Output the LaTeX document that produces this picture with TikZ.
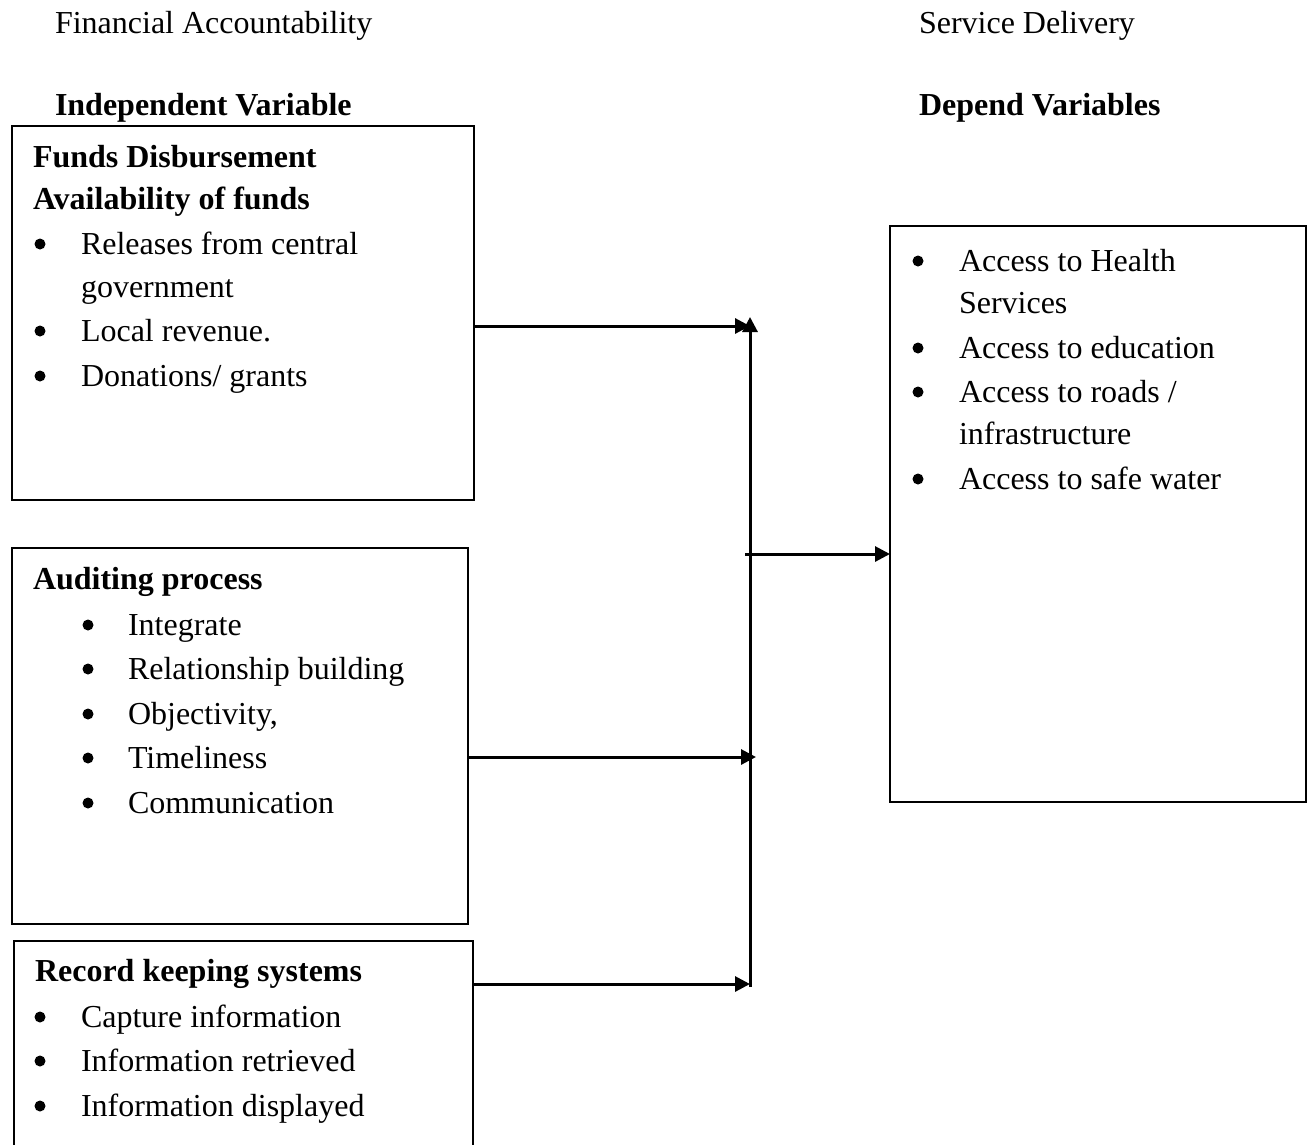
\documentclass[tikz,border=0pt]{standalone}
\usepackage{fontspec}
\setmainfont{Liberation Serif}
\usetikzlibrary{arrows.meta}
\begin{document}
\begin{tikzpicture}[x=1pt,y=-1pt,
  every node/.style={inner sep=0pt,outer sep=0pt,font=\fontsize{32}{44}\selectfont},
  txt/.style={anchor=base west},
  bul/.style={circle,fill=black,minimum size=11pt,yshift=10pt},
  hd/.style={anchor=base west,font=\fontsize{32}{44}\selectfont\bfseries},
  boxx/.style={draw,line width=2pt,anchor=north west},
  arr/.style={line width=3pt,-{Triangle[length=15pt,width=15pt]}},
  lin/.style={line width=3pt}]
\clip (0,0) rectangle (1308,1144);
\fill[white] (0,0) rectangle (1308,1144);
% headings
\node[txt] (h1) at (55,33) {Financial Accountability};
\node[txt] (h2) at (919,33) {Service Delivery};
\node[hd] (h3) at (55,115) {Independent Variable};
\node[hd] (h4) at (919,115) {Depend Variables};
% boxes
\node[boxx,minimum width=462pt,minimum height=374pt] (b1) at (12,126) {};
\node[boxx,minimum width=456pt,minimum height=376pt] (b2) at (12,548) {};
\node[boxx,minimum width=459pt,minimum height=260pt] (b3) at (14,941) {};
\node[boxx,minimum width=416pt,minimum height=576pt] (b4) at (890,226) {};
% box 1 text
\node[hd] (t11) at (33,167) {Funds Disbursement};
\node[hd] (t12) at (33,209) {Availability of funds};
\node[bul] (u13) at (40,254) {};
\node[txt] (t13) at (81,254) {Releases from central};
\node[txt] (t14) at (81,297) {government};
\node[bul] (u15) at (40,341) {};
\node[txt] (t15) at (81,341) {Local revenue.};
\node[bul] (u16) at (40,386) {};
\node[txt] (t16) at (81,386) {Donations/ grants};
% box 2 text
\node[hd] (t21) at (33,589) {Auditing process};
\node[bul] (u22) at (88,635) {};
\node[txt] (t22) at (128,635) {Integrate};
\node[bul] (u23) at (88,679) {};
\node[txt] (t23) at (128,679) {Relationship building};
\node[bul] (u24) at (88,724) {};
\node[txt] (t24) at (128,724) {Objectivity,};
\node[bul] (u25) at (88,768) {};
\node[txt] (t25) at (128,768) {Timeliness};
\node[bul] (u26) at (88,813) {};
\node[txt] (t26) at (128,813) {Communication};
% box 3 text
\node[hd] (t31) at (35,981) {Record keeping systems};
\node[bul] (u32) at (40,1027) {};
\node[txt] (t32) at (81,1027) {Capture information};
\node[bul] (u33) at (40,1071) {};
\node[txt] (t33) at (81,1071) {Information retrieved};
\node[bul] (u34) at (40,1116) {};
\node[txt] (t34) at (81,1116) {Information displayed};
% box 4 text
\node[bul] (u41) at (918,271) {};
\node[txt] (t41) at (959,271) {Access to Health};
\node[txt] (t42) at (959,313) {Services};
\node[bul] (u43) at (918,358) {};
\node[txt] (t43) at (959,358) {Access to education};
\node[bul] (u44) at (918,402) {};
\node[txt] (t44) at (959,402) {Access to roads /};
\node[txt] (t45) at (959,444) {infrastructure};
\node[bul] (u46) at (918,489) {};
\node[txt] (t46) at (959,489) {Access to safe water};
% connectors
\coordinate (j1) at (750,326);
\coordinate (jt) at (750,317);
\coordinate (j2) at (756,757);
\coordinate (j3) at (750,984);
\coordinate (jb) at (750,987);
\coordinate (m) at (745,554);
\draw[arr] (b1.east |- j1) -- (j1);
\draw[arr] (jb) -- (jt);
\draw[arr] (b2.east |- j2) -- (j2);
\draw[arr] (b3.east |- j3) -- (j3);
\draw[arr] (m) -- (b4.west |- m);
\end{tikzpicture}
\end{document}
